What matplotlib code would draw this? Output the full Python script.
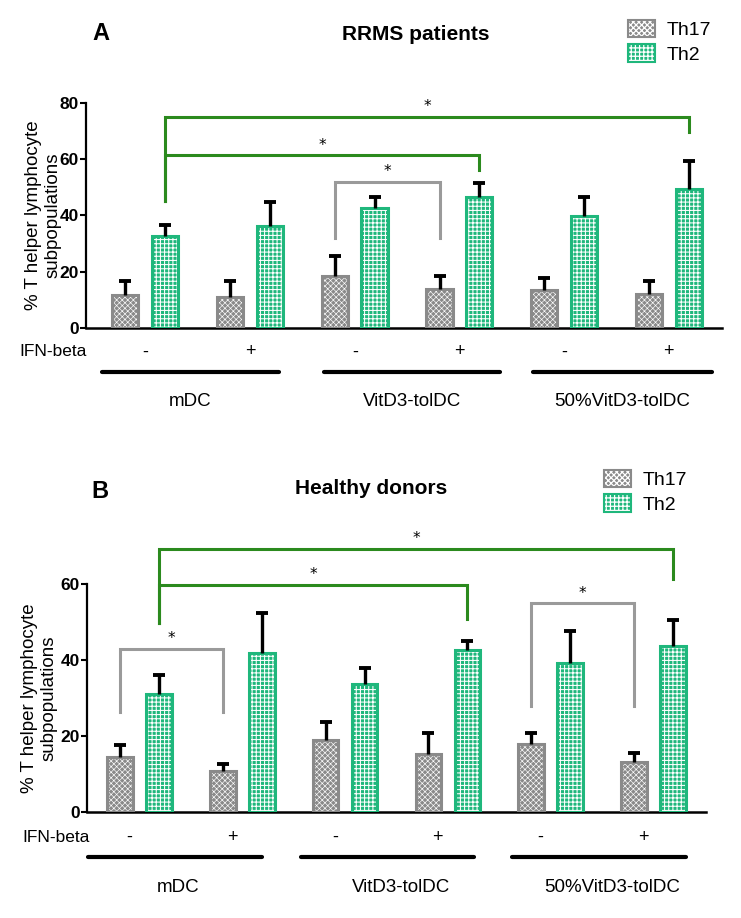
import numpy as np
import matplotlib
matplotlib.use("Agg")
import matplotlib.pyplot as plt
import matplotlib.transforms as mtrans
from matplotlib.patches import Patch

# data (% of T helper cells)
signs = ['-', '+', '-', '+', '-', '+']
groups = ['mDC', 'VitD3-tolDC', '50%VitD3-tolDC']
series = ['Th17', 'Th2']

a_th17 = [11.7, 10.9, 18.3, 13.7, 13.4, 12.1]
a_th17_err = [4.9, 5.7, 7.3, 4.9, 4.4, 4.7]
a_th2 = [32.7, 36.4, 42.5, 46.7, 39.7, 49.4]
a_th2_err = [3.9, 8.2, 4.1, 4.7, 6.7, 10.1]

b_th17 = [14.4, 10.7, 18.9, 15.2, 17.9, 13.2]
b_th17_err = [3.2, 1.9, 4.7, 5.5, 3.0, 2.3]
b_th2 = [31.1, 41.9, 33.8, 42.6, 39.3, 43.8]
b_th2_err = [4.9, 10.5, 4.2, 2.3, 8.4, 6.7]

# significance brackets: (series, bar, series, bar, top, left end, right end)
a_sig = [(1, 0, 1, 5, 75.1, 45.0, 69.5),
         (1, 0, 1, 3, 61.3, 45.0, 56.0),
         (0, 2, 0, 3, 51.9, 32.0, 32.0)]
b_sig = [(1, 0, 1, 5, 69.2, 49.8, 61.2),
         (1, 0, 1, 3, 59.7, 49.8, 50.8),
         (0, 0, 0, 1, 42.9, 26.2, 26.2),
         (0, 4, 0, 5, 54.9, 27.9, 27.9)]

W, H = 741, 918
GREEN = '#1fb77c'
GREY = '#8a8a8a'
DKGREEN = '#2b8a1e'
BRGREY = '#9a9a9a'

plt.rcParams['font.family'] = ['Liberation Sans', 'DejaVu Sans']
plt.rcParams['hatch.linewidth'] = 0.9

fig = plt.figure(figsize=(W / 100, H / 100), dpi=100)


def fx(px):
    return px / W


def fy(py):
    return 1 - py / H


offs = [-0.19, 0.19]
colors = [GREY, GREEN]
hatches = ['xxxxxx', '++++']
hatch_lw = [0.45, 0.75]
bw = 0.25


def set_hlw(p, lw):
    # per-patch hatch width when the installed matplotlib supports it
    if hasattr(p, 'set_hatch_linewidth'):
        p.set_hatch_linewidth(lw)
    else:
        p._hatch_linewidth = lw


def panel(rect, xlim, th17, th17_err, th2, th2_err, sig, ymax, yticks, letter, title,
          letter_xy, title_xy, leg_xy, ylab_x, ifn_x, ifn_y, line_y, lab_y, lines, labs,
          sign_shift):
    ax = fig.add_axes(rect)
    ax.patch.set_alpha(0)
    x = np.arange(len(signs))
    vals = [th17, th2]
    errs = [th17_err, th2_err]
    for k in range(2):
        xs = x + offs[k]
        bars = ax.bar(xs, vals[k], bw, color=colors[k], edgecolor='white', hatch=hatches[k],
                      linewidth=0, zorder=2)
        for b in bars:
            set_hlw(b, hatch_lw[k])
        ax.bar(xs, vals[k], bw, color='none', edgecolor=colors[k], linewidth=2.2, zorder=3)
        eb = ax.errorbar(xs, vals[k], yerr=[np.zeros(len(x)), errs[k]], fmt='none',
                         ecolor='black', elinewidth=2.4, capsize=4.6, capthick=2.8, zorder=4)
        eb[1][0].set_visible(False)

    for s1, i1, s2, i2, top, y1, y2 in sig:
        x1 = i1 + offs[s1]
        x2 = i2 + offs[s2]
        c = DKGREEN if s1 == 1 else BRGREY
        ax.plot([x1, x1, x2, x2], [y1, top, top, y2], color=c, lw=2.2,
                clip_on=False, zorder=5, solid_joinstyle='miter')
        ax.text((x1 + x2) / 2, top + ymax * 0.012, '*', ha='center', va='bottom',
                fontsize=11, family='DejaVu Sans', clip_on=False)

    ax.set_xlim(*xlim)
    ax.set_ylim(0, ymax)
    ax.spines['top'].set_visible(False)
    ax.spines['right'].set_visible(False)
    ax.spines['left'].set_linewidth(1.6)
    ax.spines['bottom'].set_linewidth(1.8)
    ax.spines['left'].set_bounds(0, yticks[-1])
    ax.set_xticks([])
    ax.set_yticks(yticks)
    ax.tick_params(axis='y', length=4, width=1.5, pad=1, labelsize=12.5)
    for t in ax.get_yticklabels():
        t.set_fontweight('bold')
    ax.set_ylabel('% T helper lymphocyte\nsubpopulations', fontsize=13.5, linespacing=1.2)
    ax.yaxis.set_label_coords(ylab_x, 0.5 * yticks[-1] / ymax)

    tr = mtrans.blended_transform_factory(ax.transData, fig.transFigure)
    fig.text(fx(ifn_x), fy(ifn_y), 'IFN-beta', ha='right', va='center', fontsize=12.5)
    for i, s in enumerate(signs):
        ax.text(i + sign_shift, fy(ifn_y), s, transform=tr, ha='center', va='center',
                fontsize=13)
    for (l0, l1), lx, g in zip(lines, labs, groups):
        ax.plot([l0, l1], [fy(line_y), fy(line_y)], transform=tr, color='black',
                lw=3, clip_on=False, solid_capstyle='round')
        ax.text(lx, fy(lab_y), g, transform=tr, ha='center', va='center', fontsize=13.5)

    fig.text(fx(letter_xy[0]), fy(letter_xy[1]), letter, ha='center', va='center',
             fontsize=17, fontweight='bold')
    fig.text(fx(title_xy[0]), fy(title_xy[1]), title, ha='center', va='center',
             fontsize=15, fontweight='bold')

    handles = []
    for k in range(2):
        p = Patch(facecolor=colors[k], edgecolor='white', hatch=hatches[k], linewidth=0)
        set_hlw(p, hatch_lw[k])
        handles.append((p, Patch(facecolor='none', edgecolor=colors[k], linewidth=1.5)))
    fig.legend(handles, series, loc='upper left', bbox_to_anchor=(fx(leg_xy[0]), fy(leg_xy[1])),
               frameon=False, fontsize=14, handlelength=1.4, handleheight=1.0,
               handletextpad=0.6, labelspacing=0.25, borderaxespad=0, borderpad=0)
    return ax


# panel A
axA = panel([fx(86), fy(328), fx(721.7) - fx(86), fy(102.8) - fy(328)], (-0.566, 5.505),
            a_th17, a_th17_err, a_th2, a_th2_err, a_sig, 80, [0, 20, 40, 60, 80],
            'A', 'RRMS patients', (101, 33), (416, 35), (628, 20), -0.039,
            87, 352, 372.3, 402,
            [(-0.41, 1.28), (1.71, 3.39), (3.70, 5.41)], [0.43, 2.55, 4.55], 0.0)

# panel B
axB = panel([fx(87), fy(812), fx(705) - fx(86), fy(584) - fy(812)], (-0.51, 5.51),
            b_th17, b_th17_err, b_th2, b_th2_err, b_sig, 60, [0, 20, 40, 60],
            'B', 'Healthy donors', (100, 492), (371, 489), (604, 470), -0.047,
            90, 837, 856.7, 887,
            [(-0.5, 1.19), (1.57, 3.25), (3.62, 5.32)], [0.38, 2.54, 4.6], -0.1)

fig.savefig('out.png', dpi=100)
